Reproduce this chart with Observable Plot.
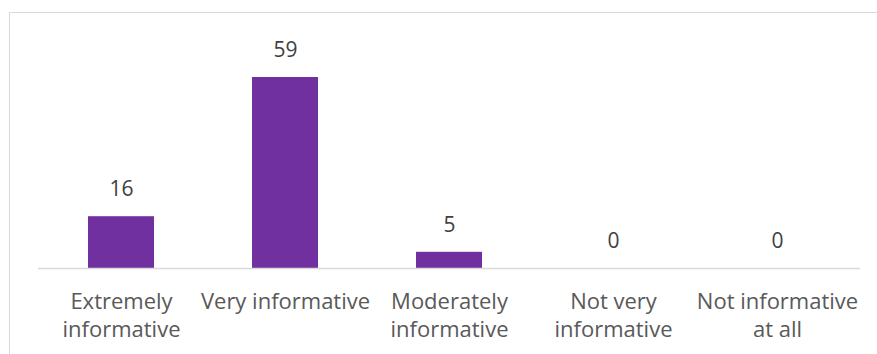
<!DOCTYPE html>
<html>
<head>
<meta charset="utf-8">
<script src="https://cdn.jsdelivr.net/npm/d3@7"></script>
<script src="https://cdn.jsdelivr.net/npm/@observablehq/plot@0.6"></script>
<style>
  html, body { margin: 0; padding: 0; background: #fff; overflow: hidden; width: 877px; height: 354px; }
  #wrap { position: relative; width: 877px; height: 354px; }
  #border { position: absolute; left: 9px; top: 12px; width: 900px; height: 400px; border: 1.5px solid #d9d9d9; box-sizing: border-box; }
  #chart { position: absolute; left: 0; top: 0; }
</style>
</head>
<body>
<div id="wrap">
  <div id="border"></div>
  <div id="chart"></div>
</div>
<script>
const categories = ["Extremely informative", "Very informative", "Moderately informative", "Not very informative", "Not informative at all"];
const tickLabels = ["Extremely\ninformative", "Very informative", "Moderately\ninformative", "Not very\ninformative", "Not informative\nat all"];
const values = [16, 59, 5, 0, 0];

const data = categories.map((c, i) => ({category: c, value: values[i]}));
const labelOf = new Map(categories.map((c, i) => [c, tickLabels[i]]));

const chart = Plot.plot({
  width: 877,
  height: 354,
  marginLeft: 38,
  marginRight: 17,
  marginTop: 77,
  marginBottom: 86,
  style: {fontFamily: "'Open Sans', sans-serif", background: "transparent", overflow: "visible"},
  x: {domain: categories, paddingInner: 0.6, paddingOuter: 0.3, label: null},
  y: {domain: [0, 59], axis: null},
  marks: [
    Plot.barY(data, {x: "category", y: "value", fill: "#7030a0"}),
    Plot.ruleY([0], {stroke: "#d9d9d9", strokeWidth: 1.5}),
    Plot.text(data, {x: "category", y: "value", text: d => String(d.value), dy: -27, fontSize: 21, fill: "#404040"}),
    Plot.axisX({tickSize: 0, tickPadding: 21, fontSize: 22, lineHeight: 1.27, color: "#595959", tickFormat: d => labelOf.get(d), label: null})
  ]
});
document.getElementById("chart").appendChild(chart);
</script>
</body>
</html>
